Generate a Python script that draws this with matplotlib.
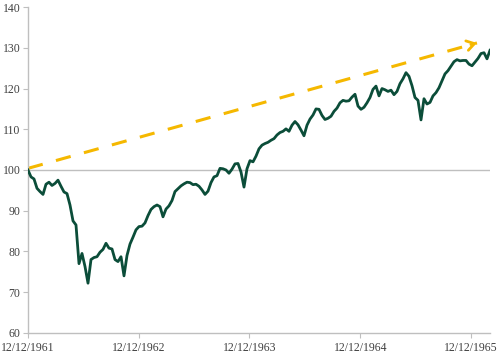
import numpy as np
import pandas as pd
import matplotlib
matplotlib.use("Agg")
import matplotlib.pyplot as plt

# ======================
# data (index level)
# ======================
start_date = "1961-12-12"
end_date = "1966-02-12"

index_values = [
    100.0, 98.3, 97.8, 95.5, 94.7, 94.0, 96.5, 97.0, 96.2, 96.7,
    97.5, 96.0, 94.6, 94.2, 91.4, 87.5, 86.5, 77.0, 79.5, 76.3,
    72.2, 78.0, 78.5, 78.7, 79.8, 80.5, 82.0, 80.8, 80.6, 78.0,
    77.5, 78.7, 74.0, 79.0, 81.8, 83.5, 85.3, 86.1, 86.2, 87.0,
    88.8, 90.3, 91.0, 91.4, 91.0, 88.5, 90.4, 91.2, 92.5, 94.7,
    95.4, 96.1, 96.6, 97.0, 96.9, 96.4, 96.5, 96.0, 95.1, 94.0,
    94.8, 96.9, 98.3, 98.6, 100.4, 100.3, 100.0, 99.2, 100.2, 101.5,
    101.6, 99.5, 95.8, 100.3, 102.3, 102.0, 103.4, 105.2, 106.1, 106.5,
    106.8, 107.3, 107.7, 108.6, 109.2, 109.5, 110.1, 109.5, 111.0, 111.9,
    111.1, 109.8, 108.4, 111.0, 112.5, 113.5, 115.0, 114.9, 113.4, 112.4,
    112.7, 113.2, 114.4, 115.2, 116.5, 117.1, 116.9, 117.0, 117.9, 118.6,
    115.7, 114.9, 115.4, 116.5, 117.8, 119.8, 120.6, 118.2, 120.0, 119.7,
    119.3, 119.6, 118.5, 119.3, 121.2, 122.4, 123.9, 123.0, 120.7, 117.8,
    117.1, 112.3, 117.5, 116.2, 116.6, 118.2, 119.0, 120.2, 121.9, 123.6,
    124.4, 125.5, 126.6, 127.1, 126.8, 126.9, 126.9, 126.0, 125.6, 126.5,
    127.4, 128.6, 128.8, 127.3, 129.4,
]

trend_dates = ["1961-12-12", "1965-12-31"]
trend_values = [100.4, 131.2]

tick_dates = ["1961-12-12", "1962-12-12", "1963-12-12", "1964-12-12", "1965-12-12"]
tick_labels = ["12/12/1961", "12/12/1962", "12/12/1963", "12/12/1964", "12/12/1965"]
y_ticks = [60, 70, 80, 90, 100, 110, 120, 130, 140]

dates = pd.date_range(start_date, end_date, periods=len(index_values))

# ======================
# style
# ======================
GREEN = "#0b4d39"
GOLD = "#f5b800"
GRAY = "#bfbfbf"
TEXT = "#404040"

plt.rcParams["font.family"] = ["Liberation Serif", "DejaVu Serif"]

fig = plt.figure(figsize=(5.0, 3.56), dpi=100)
ax = fig.add_axes([0.056, 0.065, 0.924, 0.915])

# reference line at 100
ax.axhline(100, color=GRAY, lw=1.0, zorder=1)

# trend arrow
td = pd.to_datetime(trend_dates)
ax.plot(td, trend_values, color=GOLD, lw=2.2, dashes=(5, 4.5), zorder=2)
ax.annotate("", xy=(td[1], trend_values[1]),
            xytext=(td[1] - pd.Timedelta(days=20), trend_values[1] - 0.4),
            arrowprops=dict(arrowstyle="->,head_length=0.55,head_width=0.35",
                            color=GOLD, lw=2.0, shrinkA=0, shrinkB=0),
            zorder=2)

# index line
ax.plot(dates, index_values, color=GREEN, lw=2.0, zorder=3)

ax.set_xlim(pd.Timestamp(start_date), pd.Timestamp(end_date))
ax.set_ylim(60, 140)
ax.set_yticks(y_ticks)
ax.set_xticks(pd.to_datetime(tick_dates))
ax.set_xticklabels(tick_labels)

for side in ["top", "right"]:
    ax.spines[side].set_visible(False)
for side in ["left", "bottom"]:
    ax.spines[side].set_color(GRAY)
    ax.spines[side].set_linewidth(1.0)

ax.tick_params(axis="both", colors=GRAY, labelcolor=TEXT, labelsize=8.5,
               length=3.5, width=0.8, direction="out")
ax.tick_params(axis="y", pad=2)
ax.tick_params(axis="x", pad=3)

fig.savefig("out.png", dpi=100)
plt.close(fig)
